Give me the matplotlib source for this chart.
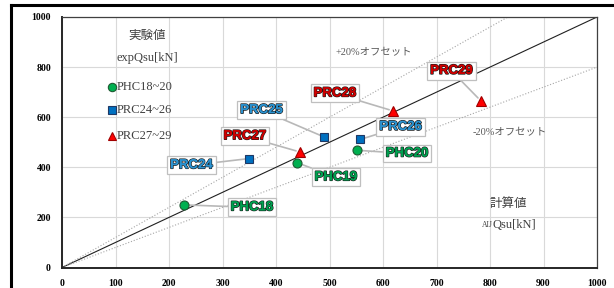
import matplotlib
matplotlib.use('Agg')
import matplotlib.pyplot as plt
import matplotlib.patheffects as pe
from matplotlib.lines import Line2D

# data (calc vs exp shear strength, kN)
phc_names = ['PHC18', 'PHC19', 'PHC20']
phc_x = [228, 440, 551]
phc_y = [250, 418, 468]

prc_b_names = ['PRC24', 'PRC25', 'PRC26']
prc_b_x = [350, 490, 557]
prc_b_y = [435, 521, 511]

prc_r_names = ['PRC27', 'PRC28', 'PRC29']
prc_r_x = [445, 619, 783]
prc_r_y = [461, 625, 665]

# where the callout boxes sit (data coords)
phc_lab = [(355, 240), (512, 360), (645, 455)]
prc_b_lab = [(242, 408), (373, 628), (633, 561)]
prc_r_lab = [(342, 524), (510, 695), (728, 785)]

legend_names = ['PHC18~20', 'PRC24~26', 'PRC27~29']

serif = ['Liberation Serif', 'Noto Sans CJK JP']
jp = ['Noto Sans CJK JP', 'Liberation Serif']

fig = plt.figure(figsize=(6.14, 2.88), dpi=100)
ax = fig.add_axes([62/614, 20.5/288, 535/614, 250.5/288])

ax.set_xlim(0, 1000)
ax.set_ylim(0, 1000)
ax.set_xticks(range(0, 1001, 100))
ax.set_yticks(range(0, 1001, 200))
ax.grid(True, color='#d9d9d9', lw=0.8)
ax.set_axisbelow(True)
ax.tick_params(length=0, pad=8)
for lab in ax.get_xticklabels() + ax.get_yticklabels():
    lab.set_fontfamily('Liberation Serif')
    lab.set_fontweight('bold')
    lab.set_fontsize(7)
for s in ['left', 'bottom']:
    ax.spines[s].set_linewidth(1.4)
    ax.spines[s].set_color('#262626')
for s in ['top', 'right']:
    ax.spines[s].set_linewidth(0.9)
    ax.spines[s].set_color('#404040')

# 1:1 and +-20% lines
ax.plot([0, 1000], [0, 1000], color='#202020', lw=0.8, zorder=2)
ax.plot([0, 1000 / 1.2], [0, 1000], color='#a6a6a6', lw=0.8, ls=':', zorder=2)
ax.plot([0, 1000], [0, 800], color='#a6a6a6', lw=0.8, ls=':', zorder=2)


def callouts(names, xs, ys, labs, col):
    for n, x, y, (lx, ly) in zip(names, xs, ys, labs):
        t = ax.annotate(n, xy=(x, y), xytext=(lx, ly),
                        ha='center', va='center', fontsize=9.5,
                        fontfamily='Liberation Sans', fontweight='bold',
                        color=col, zorder=4,
                        bbox=dict(boxstyle='square,pad=0.22', fc='white',
                                  ec='#bfbfbf', lw=0.9),
                        arrowprops=dict(arrowstyle='-', color='#b8b8b8',
                                        lw=1.2, shrinkA=0, shrinkB=3))
        t.set_path_effects([pe.withStroke(linewidth=1.1, foreground='#1a1a1a'),
                            pe.Normal()])


callouts(phc_names, phc_x, phc_y, phc_lab, '#00a050')
callouts(prc_b_names, prc_b_x, prc_b_y, prc_b_lab, '#2a92d0')
callouts(prc_r_names, prc_r_x, prc_r_y, prc_r_lab, '#d00000')

ax.plot(phc_x, phc_y, 'o', ms=6.5, mfc='#00b050', mec='#1e5a32', mew=0.8, ls='none', zorder=5)
ax.plot(prc_b_x, prc_b_y, 's', ms=6, mfc='#0070c0', mec='#1f3864', mew=0.8, ls='none', zorder=5)
ax.plot(prc_r_x, prc_r_y, '^', ms=7, mfc='#ff0000', mec='#a00000', mew=0.8, ls='none', zorder=5)

# legend drawn by hand like the original
ax.text(159, 928, '実験値', ha='center', va='center', fontsize=9,
        family=jp, color='#404040')
ax.text(159, 836, 'expQsu[kN]', ha='center', va='center', fontsize=9,
        family=serif, color='#404040')
leg_y = [720, 628, 524]
leg_m = [('o', '#00b050', '#1e5a32'), ('s', '#0070c0', '#1f3864'),
         ('^', '#ff0000', '#a00000')]
for ly, name, (m, fc, ec) in zip(leg_y, legend_names, leg_m):
    ax.plot([93], [ly], m, ms=6, mfc=fc, mec=ec, mew=0.8, zorder=5)
    ax.text(103, ly, name, ha='left', va='center', fontsize=9,
            family=serif, color='#404040')

ax.text(583, 856, '+20%オフセット', ha='center', va='center', fontsize=7.5,
        family=serif, color='#595959')
ax.text(837, 540, '-20%オフセット', ha='center', va='center', fontsize=7.5,
        family=serif, color='#595959')
ax.text(834, 256, '計算値', ha='center', va='center', fontsize=9,
        family=jp, color='#404040')
q = ax.text(846, 168, 'Qsu[kN]', ha='center', va='center', fontsize=9,
            family=serif, color='#404040')
ax.annotate('AIJ', xy=(0, 0.18), xycoords=q, ha='right', va='bottom',
            fontsize=5.5, family=serif, color='#404040')

# outer frame, cut off at right/bottom
fig.add_artist(Line2D([11/614, 1], [1 - 4.5/288, 1 - 4.5/288], color='black', lw=2.2))
fig.add_artist(Line2D([11/614, 11/614], [0, 1 - 4.5/288], color='black', lw=2.2))

fig.savefig('out.png', dpi=100)
